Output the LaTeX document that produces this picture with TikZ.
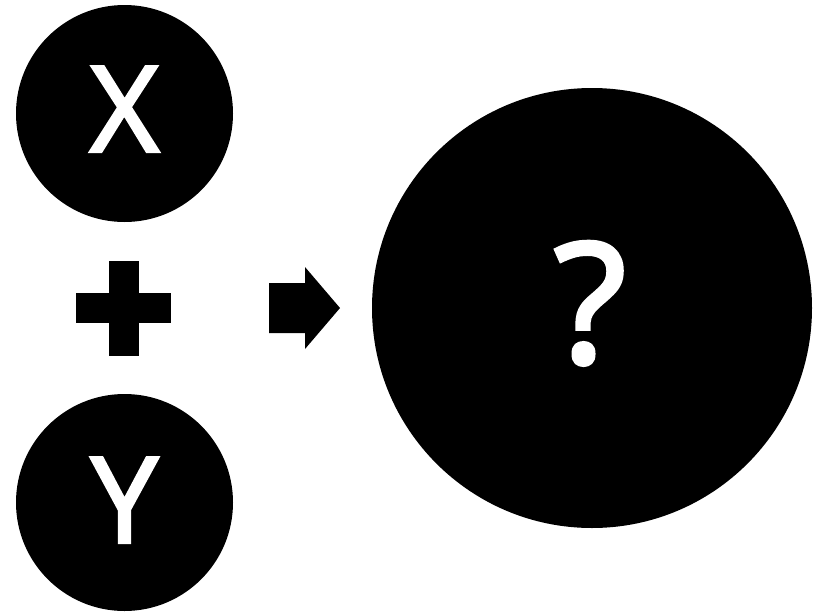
\documentclass[tikz,border=0pt]{standalone}
\usepackage{fontspec}
\setmainfont{Noto Sans}
\newfontfamily\heavyfont[FakeBold=2]{Noto Sans}
\usetikzlibrary{positioning}

\begin{document}
\begin{tikzpicture}[
		x=1pt, y=-1pt,
		% Style for the circles
		ball/.style={circle, fill=black, draw=none, inner sep=0pt, minimum size=217pt},
		bigball/.style={ball, minimum size=440pt},
		% Text inside the circles
		letter/.style={text=white, inner sep=0pt, anchor=base, font=\heavyfont\fontsize{120}{120}\selectfont},
		bigletter/.style={letter, font=\heavyfont\fontsize{168}{168}\selectfont},
		% Plus and arrow shapes
		sign/.style={fill=black, draw=none}
		]
	\useasboundingbox (0,0) rectangle (817,611);

	% Inputs
	\node[ball] (X) at (124.5,113.5) {};
	\node[letter] (Xlabel) at (124.5,152) {X};
	\node[ball] (Y) at (124.5,502.5) {};
	\node[letter] (Ylabel) at (124.5,543) {Y};

	% Result
	\node[bigball] (Q) at (592,308) {};
	\node[bigletter] (Qlabel) at (590,363) {?};

	% Plus sign
	\fill[sign] (76,293) rectangle (171,323);
	\fill[sign] (109,261) rectangle (139,356);

	% Arrow
	\fill[sign] (269,283) -- (305,283) -- (305,267) -- (340,308)
		-- (305,349) -- (305,333) -- (269,333) -- cycle;
\end{tikzpicture}
\end{document}
